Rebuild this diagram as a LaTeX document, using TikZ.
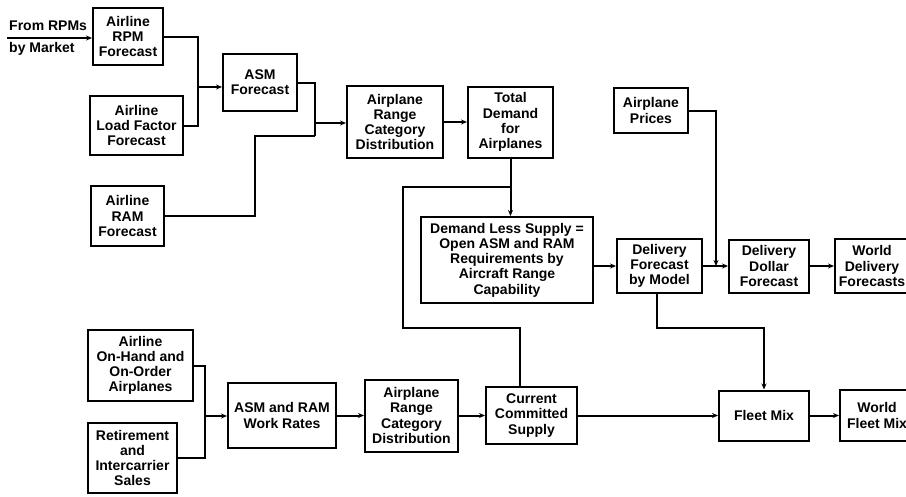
\documentclass[tikz,border=0pt]{standalone}
\usepackage{fontspec}
\setmainfont{Liberation Sans}
\usetikzlibrary{arrows.meta, positioning}

\begin{document}
\begin{tikzpicture}[
    x=1pt, y=-1pt,
    block/.style={draw, line width=2pt, align=center, inner sep=1pt, font=\bfseries\fontsize{14}{15.2}\selectfont},
    flow/.style={line width=2pt},
    arr/.style={flow, -{Stealth[length=6pt, width=5pt]}},
    srclabel/.style={font=\bfseries\fontsize{14}{15.2}\selectfont, inner sep=0pt},
]
\useasboundingbox (0,0) rectangle (906,496);

% Demand side
\node[block, minimum width=70pt, minimum height=57pt] (rpm) at (128,36.5) {Airline\\RPM\\Forecast};
\node[block, minimum width=93pt, minimum height=59pt] (loadf) at (136.5,125.5) {Airline\\Load Factor\\Forecast};
\node[block, minimum width=73pt, minimum height=60pt] (ram) at (127.5,216) {Airline\\RAM\\Forecast};
\node[block, minimum width=74pt, minimum height=57pt] (asm) at (260,82.5) {ASM\\Forecast};
\node[block, minimum width=96pt, minimum height=72pt] (rangeA) at (395,122) {Airplane\\Range\\Category\\Distribution};
\node[block, minimum width=85pt, minimum height=71pt, right=23pt of rangeA] (demand) {Total\\Demand\\for\\Airplanes};
\node[block, minimum width=74pt, minimum height=45pt] (prices) at (651,110.5) {Airplane\\Prices};
\node[block, minimum width=172pt, minimum height=86pt] (open) at (507,260) {Demand Less Supply =\\Open ASM and RAM\\Requirements by\\Aircraft Range\\Capability};
\node[block, minimum width=85pt, minimum height=54pt] (bymodel) at (659.5,266) {Delivery\\Forecast\\by Model};
\node[block, minimum width=80pt, minimum height=53pt, right=25pt of bymodel] (dollar) {Delivery\\Dollar\\Forecast};
\node[block, minimum width=74pt, minimum height=54pt, right=24pt of dollar] (worlddel) {World\\Delivery\\Forecasts};

% Supply side
\node[block, minimum width=105pt, minimum height=71pt] (onhand) at (140.5,365.5) {Airline\\On-Hand and\\On-Order\\Airplanes};
\node[block, minimum width=89pt, minimum height=70pt] (retire) at (132.5,458) {Retirement\\and\\Intercarrier\\Sales};
\node[block, minimum width=108pt, minimum height=65pt] (rates) at (282,415.5) {ASM and RAM\\Work Rates};
\node[block, minimum width=93pt, minimum height=72pt, right=27pt of rates] (rangeB) {Airplane\\Range\\Category\\Distribution};
\node[block, minimum width=91pt, minimum height=57pt, right=26pt of rangeB] (supply) {Current\\Committed\\Supply};
\node[block, minimum width=90pt, minimum height=50pt, right=140pt of supply] (fleet) {Fleet Mix};
\node[block, minimum width=74pt, minimum height=51pt, right=29pt of fleet] (worldfleet) {World\\Fleet Mix};

% Input from market
\coordinate (src) at (7,38);
\node[srclabel, anchor=south west] (fromlbl) at (9,31) {From RPMs};
\node[srclabel, anchor=north west] (mktlbl) at (9,42) {by Market};
\draw[arr] (src) -- (rpm.west |- src);

% Joins
\coordinate (joinA) at (198,87);
\coordinate (joinB) at (315,123);
\coordinate (joinBlow) at (315,136);
\coordinate (ramup) at (255,136);
\coordinate (loopdown) at (403,328);
\coordinate (loopup) at (403,187);
\coordinate (pricejoin) at (716,266);
\coordinate (joinC) at (205,416);

% Arrows
\draw[flow] (rpm.east) -| (joinA);
\draw[flow] (loadf.east) -| (joinA);
\draw[arr] (joinA) -- (asm.west |- joinA);
\draw[flow] (asm.east) -| (joinBlow);
\draw[flow] (ram.east) -| (ramup) -- (joinBlow);
\draw[arr] (joinB) -- (rangeA.west |- joinB);
\draw[arr] (rangeA) -- (demand);
\draw[arr] (demand.south) -- (open.north -| demand.south);
\draw[flow] ([xshift=-12pt]supply.north) |- (loopdown) -- (loopup) -- (loopup -| demand.south);
\draw[arr] (bymodel.west -| open.east) -- (bymodel.west);
\draw[arr] (bymodel) -- (dollar);
\draw[arr] (prices.east) -| (pricejoin);
\draw[arr] (dollar) -- (worlddel);
\draw[arr] ([xshift=-3pt]bymodel.south) |- (loopdown -| fleet.north) -- (fleet.north);

\draw[flow] (onhand.east) -| (joinC);
\draw[flow] (retire.east) -| (joinC);
\draw[arr] (joinC) -- (rates.west |- joinC);
\draw[arr] (rates) -- (rangeB);
\draw[arr] (rangeB) -- (supply);
\draw[arr] (supply) -- (fleet);
\draw[arr] (fleet) -- (worldfleet);

\end{tikzpicture}
\end{document}
